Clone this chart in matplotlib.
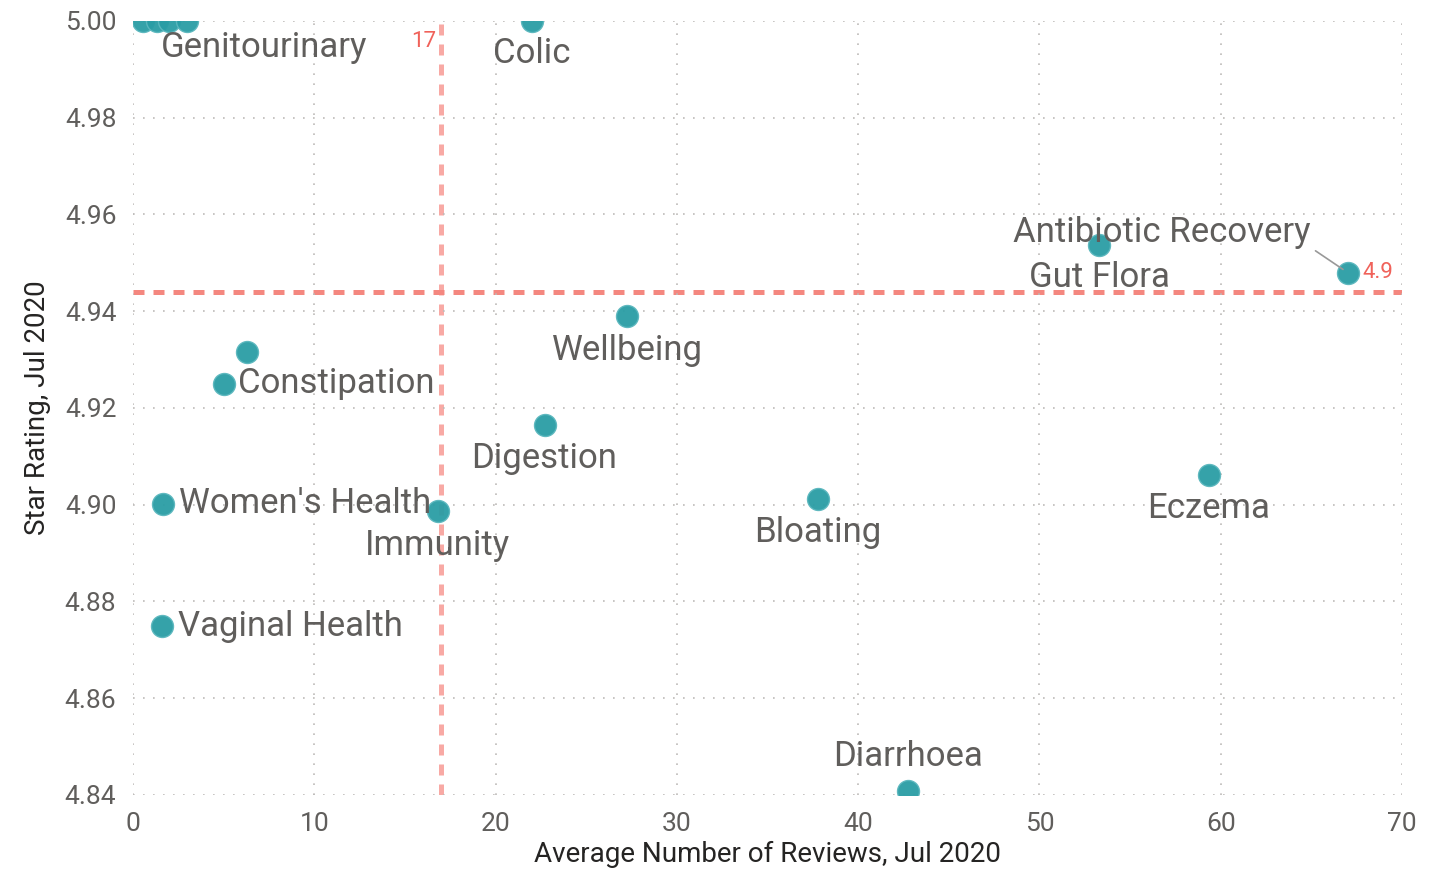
import matplotlib.pyplot as plt
from matplotlib.ticker import FormatStrFormatter

plt.rcParams['font.family'] = ['Roboto', 'DejaVu Sans']

# 各类别: 平均评论数 / 星级
categories = ['Genitourinary_a', 'Genitourinary_b', 'Genitourinary_c', 'Genitourinary',
              'Colic', 'Gut Flora', 'Antibiotic Recovery', 'Wellbeing',
              'Constipation_b', 'Constipation', 'Digestion', "Women's Health",
              'Immunity', 'Bloating', 'Eczema', 'Vaginal Health', 'Diarrhoea']
reviews = [0.55, 1.3, 2.0, 3.0, 22.0, 53.3, 67.0, 27.25,
           6.3, 5.0, 22.7, 1.65, 16.8, 37.8, 59.35, 1.6, 42.75]
ratings = [5.0, 5.0, 5.0, 5.0, 5.0, 4.9537, 4.948, 4.939,
           4.9316, 4.925, 4.9165, 4.9002, 4.8987, 4.9012, 4.9061, 4.8749, 4.8408]

avg_reviews = 17
avg_rating = 4.944

# 标签位置 (像素偏移, 对齐方式)
label_pos = {
    'Genitourinary': (77, -27, 'center'),
    'Colic': (0, -33, 'center'),
    'Gut Flora': (0, -33, 'center'),
    'Antibiotic Recovery': (-186, 40, 'center'),
    'Wellbeing': (0, -34, 'center'),
    'Constipation': (14, 0, 'left'),
    'Digestion': (0, -34, 'center'),
    "Women's Health": (16, 0, 'left'),
    'Immunity': (0, -34, 'center'),
    'Bloating': (0, -34, 'center'),
    'Eczema': (0, -33, 'center'),
    'Vaginal Health': (16, 0, 'left'),
    'Diarrhoea': (0, 35, 'center'),
}

grey = '#605E5C'

fig = plt.figure(figsize=(14.47, 8.74), dpi=100)
ax = fig.add_axes([0.0919, 0.0904, 0.877, 0.8856])

ax.set_xlim(0, 70)
ax.set_ylim(4.84, 5.0)

# 平均线
ax.axvline(avg_reviews, color='#F8A9A4', lw=3.6, ls=(0, (2.2, 1.8)), zorder=1)
ax.axhline(avg_rating, color='#F4877F', lw=3.6, ls=(0, (2.2, 1.8)), zorder=1)

ax.scatter(reviews, ratings, s=250, color='#2A9DA5', edgecolor='#5BB7BE',
           linewidth=1, alpha=0.95, zorder=3)

for name, x, y in zip(categories, reviews, ratings):
    if name not in label_pos:
        continue
    dx, dy, ha = label_pos[name]
    if name == 'Antibiotic Recovery':
        ax.annotate(name, (x, y), xytext=(dx, dy), textcoords='offset pixels',
                    ha=ha, va='center', fontsize=25, color=grey, zorder=4,
                    arrowprops=dict(arrowstyle='-', color='#999999', lw=1.2,
                                    relpos=(1.0, 0.05), shrinkA=2, shrinkB=4))
    else:
        ax.annotate(name, (x, y), xytext=(dx, dy), textcoords='offset pixels',
                    ha=ha, va='center', fontsize=25, color=grey, zorder=4)

# 平均线标签
ax.annotate('17', (avg_reviews, 5.0), xytext=(-5, -21), textcoords='offset pixels',
            ha='right', va='center', fontsize=16, color='#F0625A')
ax.annotate('4.9', (70, avg_rating), xytext=(-40, 19), textcoords='offset pixels',
            ha='left', va='center', fontsize=16, color='#F0625A')

ax.set_xticks(range(0, 71, 10))
ax.set_yticks([4.84, 4.86, 4.88, 4.90, 4.92, 4.94, 4.96, 4.98, 5.00])
ax.yaxis.set_major_formatter(FormatStrFormatter('%.2f'))
ax.tick_params(length=0, labelsize=19, colors=grey, pad=12)
ax.grid(True, color='#BDBBB9', ls=(0, (1, 5)), lw=1.2)
for s in ax.spines.values():
    s.set_visible(False)

ax.set_xlabel('Average Number of Reviews, Jul 2020', fontsize=20, color='#252423', labelpad=4)
ax.set_ylabel('Star Rating, Jul 2020', fontsize=20, color='#252423', labelpad=10)

fig.savefig('out.png', dpi=100)
